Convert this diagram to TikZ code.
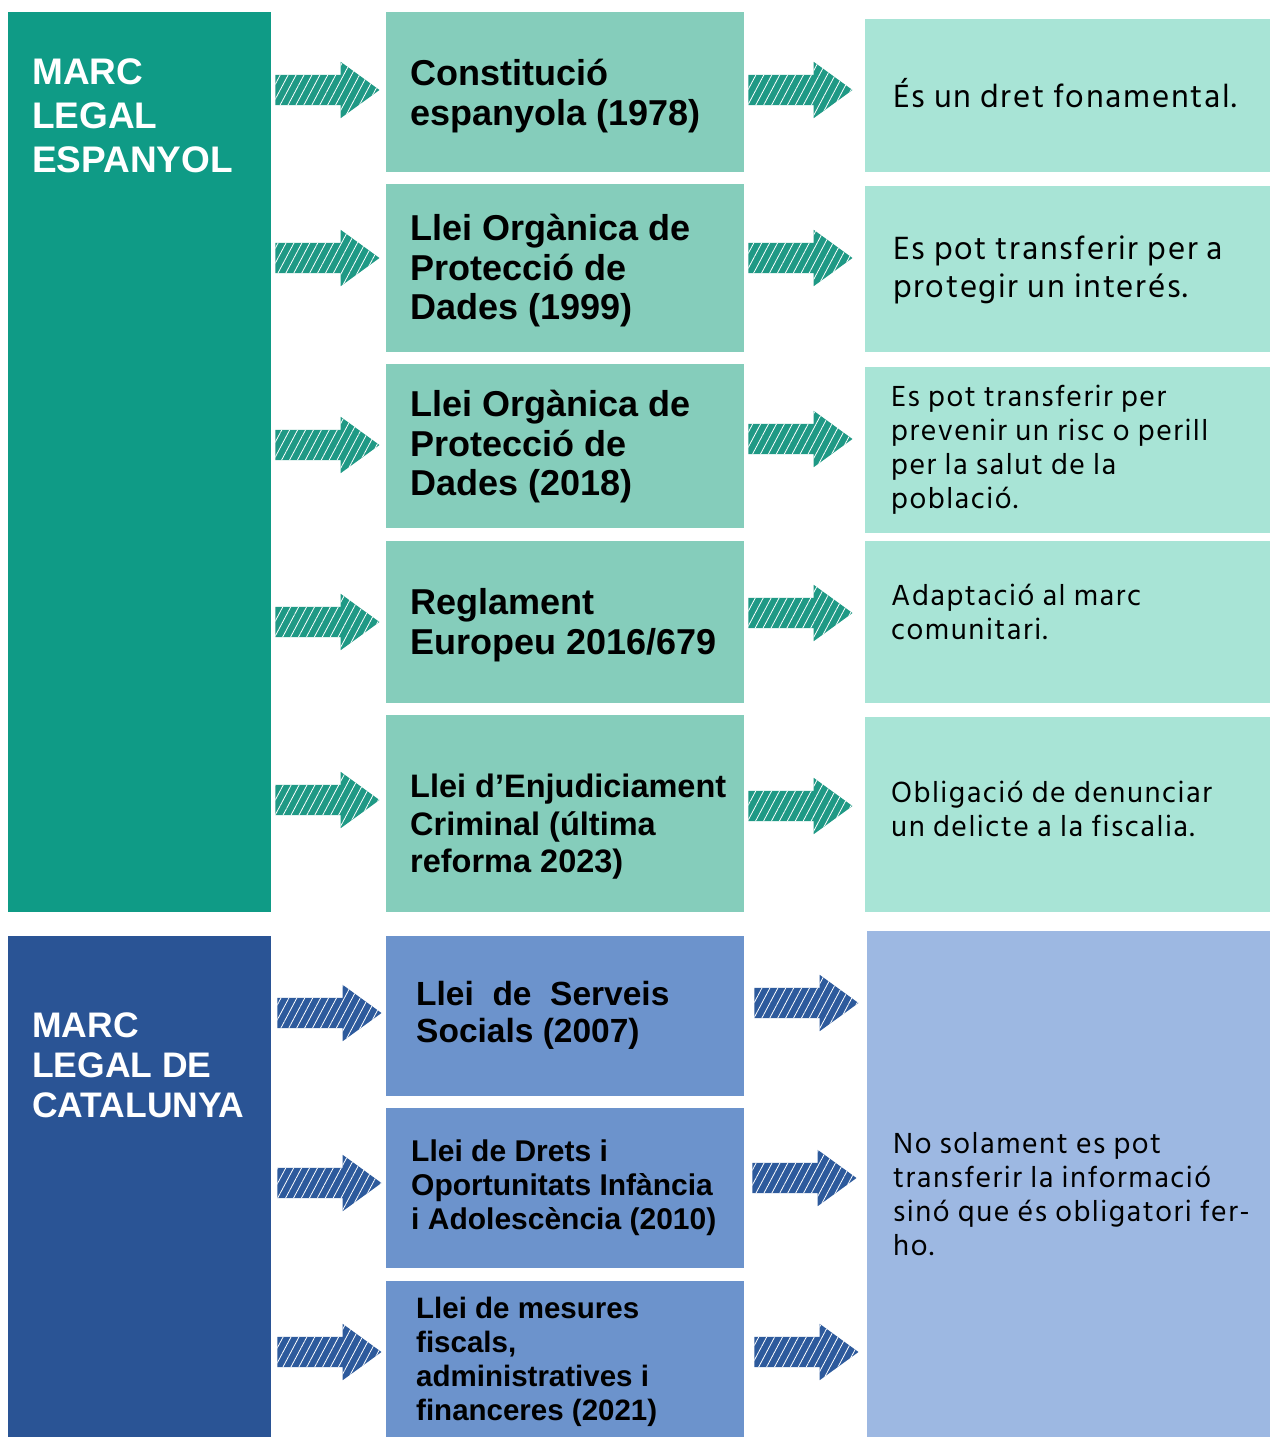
\documentclass[tikz,border=0pt]{standalone}
\usepackage{fontspec}
\setmainfont{Liberation Sans}
\newfontfamily\rfont[LetterSpace=5]{Hind Siliguri}
\usetikzlibrary{shapes.arrows,patterns.meta}
\definecolor{gdark}{HTML}{0F9B86}
\definecolor{gmid}{HTML}{85CDBB}
\definecolor{glight}{HTML}{A8E4D6}
\definecolor{garrow}{HTML}{1F9985}
\definecolor{bdark}{HTML}{2A5495}
\definecolor{bmid}{HTML}{6C93CC}
\definecolor{blight}{HTML}{9DB8E2}
\definecolor{barrow}{HTML}{2D5A9C}
\tikzset{
  box/.style={rectangle, draw=none, inner sep=0, fill=#1},
  title/.style={anchor=north west, align=left, inner sep=0, text=white, font=\bfseries\fontsize{37}{44}\selectfont},
  midtxt/.style={anchor=west, align=left, inner sep=0, font=\bfseries\fontsize{36}{39.5}\selectfont},
  rtxt/.style={anchor=west, align=left, inner sep=0, font=\rfont\fontsize{29.8}{34}\selectfont},
  sketcharrow/.style={single arrow, draw=none, fill=#1, inner sep=15pt, minimum height=104pt,
     minimum width=56pt, single arrow head extend=13pt, single arrow tip angle=72,
     postaction={fill opacity=0.3, pattern={Lines[angle=62,distance=7pt,line width=0.8pt]}, pattern color=white}}
}
\begin{document}
\begin{tikzpicture}[x=1pt,y=-1pt]
\useasboundingbox[fill=white] (0,0) rectangle (1270,1437);
% left column
\node[box=gdark, minimum width=263, minimum height=900] (L1) at (139.5,462) {};
\node[box=bdark, minimum width=263, minimum height=501] (L2) at (139.5,1186.5) {};
\node[title] (t1) at (32,58) {MARC\\LEGAL\\ESPANYOL};
\node[title, font=\bfseries\fontsize{35.5}{40}\selectfont] (t2) at (32,1012) {MARC\\LEGAL DE\\CATALUNYA};
% middle column
\node[box=gmid, minimum width=358, minimum height=160] (m1) at (565,92) {};
\node[box=gmid, minimum width=358, minimum height=168] (m2) at (565,268) {};
\node[box=gmid, minimum width=358, minimum height=164] (m3) at (565,446) {};
\node[box=gmid, minimum width=358, minimum height=162] (m4) at (565,622) {};
\node[box=gmid, minimum width=358, minimum height=197] (m5) at (565,813.5) {};
\node[box=bmid, minimum width=358, minimum height=160] (m6) at (565,1016) {};
\node[box=bmid, minimum width=358, minimum height=160] (m7) at (565,1188) {};
\node[box=bmid, minimum width=358, minimum height=156] (m8) at (565,1359) {};
\node[midtxt] (mt1) at (410,96) {Constitució\\espanyola (1978)};
\node[midtxt] (mt2) at (410,271) {Llei Orgànica de\\Protecció de\\Dades (1999)};
\node[midtxt] (mt3) at (410,447) {Llei Orgànica de\\Protecció de\\Dades (2018)};
\node[midtxt] (mt4) at (410,625) {Reglament\\Europeu 2016/679};
\node[midtxt, font=\bfseries\fontsize{32.5}{37.5}\selectfont] (mt5) at (410,827) {Llei d’Enjudiciament\\Criminal (última\\reforma 2023)};
\node[midtxt, font=\bfseries\fontsize{33.5}{37}\selectfont] (mt6) at (416,1015) {Llei\ \ de\ \ Serveis\\Socials (2007)};
\node[midtxt, font=\bfseries\fontsize{30}{34}\selectfont] (mt7) at (411,1188) {Llei de Drets i\\Oportunitats Infància\\i Adolescència (2010)};
\node[midtxt, font=\bfseries\fontsize{29.5}{34}\selectfont] (mt8) at (416,1362) {Llei de mesures\\fiscals,\\administratives i\\financeres (2021)};
% right column
\node[box=glight, minimum width=405, minimum height=153] (r1) at (1067.5,95.5) {};
\node[box=glight, minimum width=405, minimum height=166] (r2) at (1067.5,269) {};
\node[box=glight, minimum width=405, minimum height=166] (r3) at (1067.5,450) {};
\node[box=glight, minimum width=405, minimum height=162] (r4) at (1067.5,622) {};
\node[box=glight, minimum width=405, minimum height=195] (r5) at (1067.5,814.5) {};
\node[box=blight, minimum width=403, minimum height=506] (r6) at (1068.5,1184) {};
\node[rtxt, font=\rfont\fontsize{33}{38}\selectfont] (rt1) at (893,93) {És un dret fonamental.};
\node[rtxt, font=\rfont\fontsize{33}{38}\selectfont] (rt2) at (893,270) {Es pot transferir per a\\protegir un interés.};
\node[rtxt] (rt3) at (891,450) {Es pot transferir per\\prevenir un risc o perill\\per la salut de la\\població.};
\node[rtxt] (rt4) at (891,612) {Adaptació al marc\\comunitari.};
\node[rtxt] (rt5) at (891,809) {Obligació de denunciar\\un delicte a la fiscalia.};
\node[rtxt] (rt6) at (893,1194) {No solament es pot\\transferir la informació\\sinó que és obligatori fer-\\ho.};
% arrows
\foreach \n/\y in {1/90,2/258,3/445,4/622,5/800}{
  \node[sketcharrow=garrow] (la\n) at (317,\y) {};
}
\foreach \n/\y in {6/1013,7/1183,8/1352}{
  \node[sketcharrow=barrow] (la\n) at (319,\y) {};
}
\foreach \n/\y in {1/90,2/258,3/439,4/613,5/806}{
  \node[sketcharrow=garrow] (ra\n) at (790,\y) {};
}
\foreach \n/\y/\x in {6/1003/796,7/1178/794,8/1352/796}{
  \node[sketcharrow=barrow] (ra\n) at (\x,\y) {};
}
\end{tikzpicture}
\end{document}
